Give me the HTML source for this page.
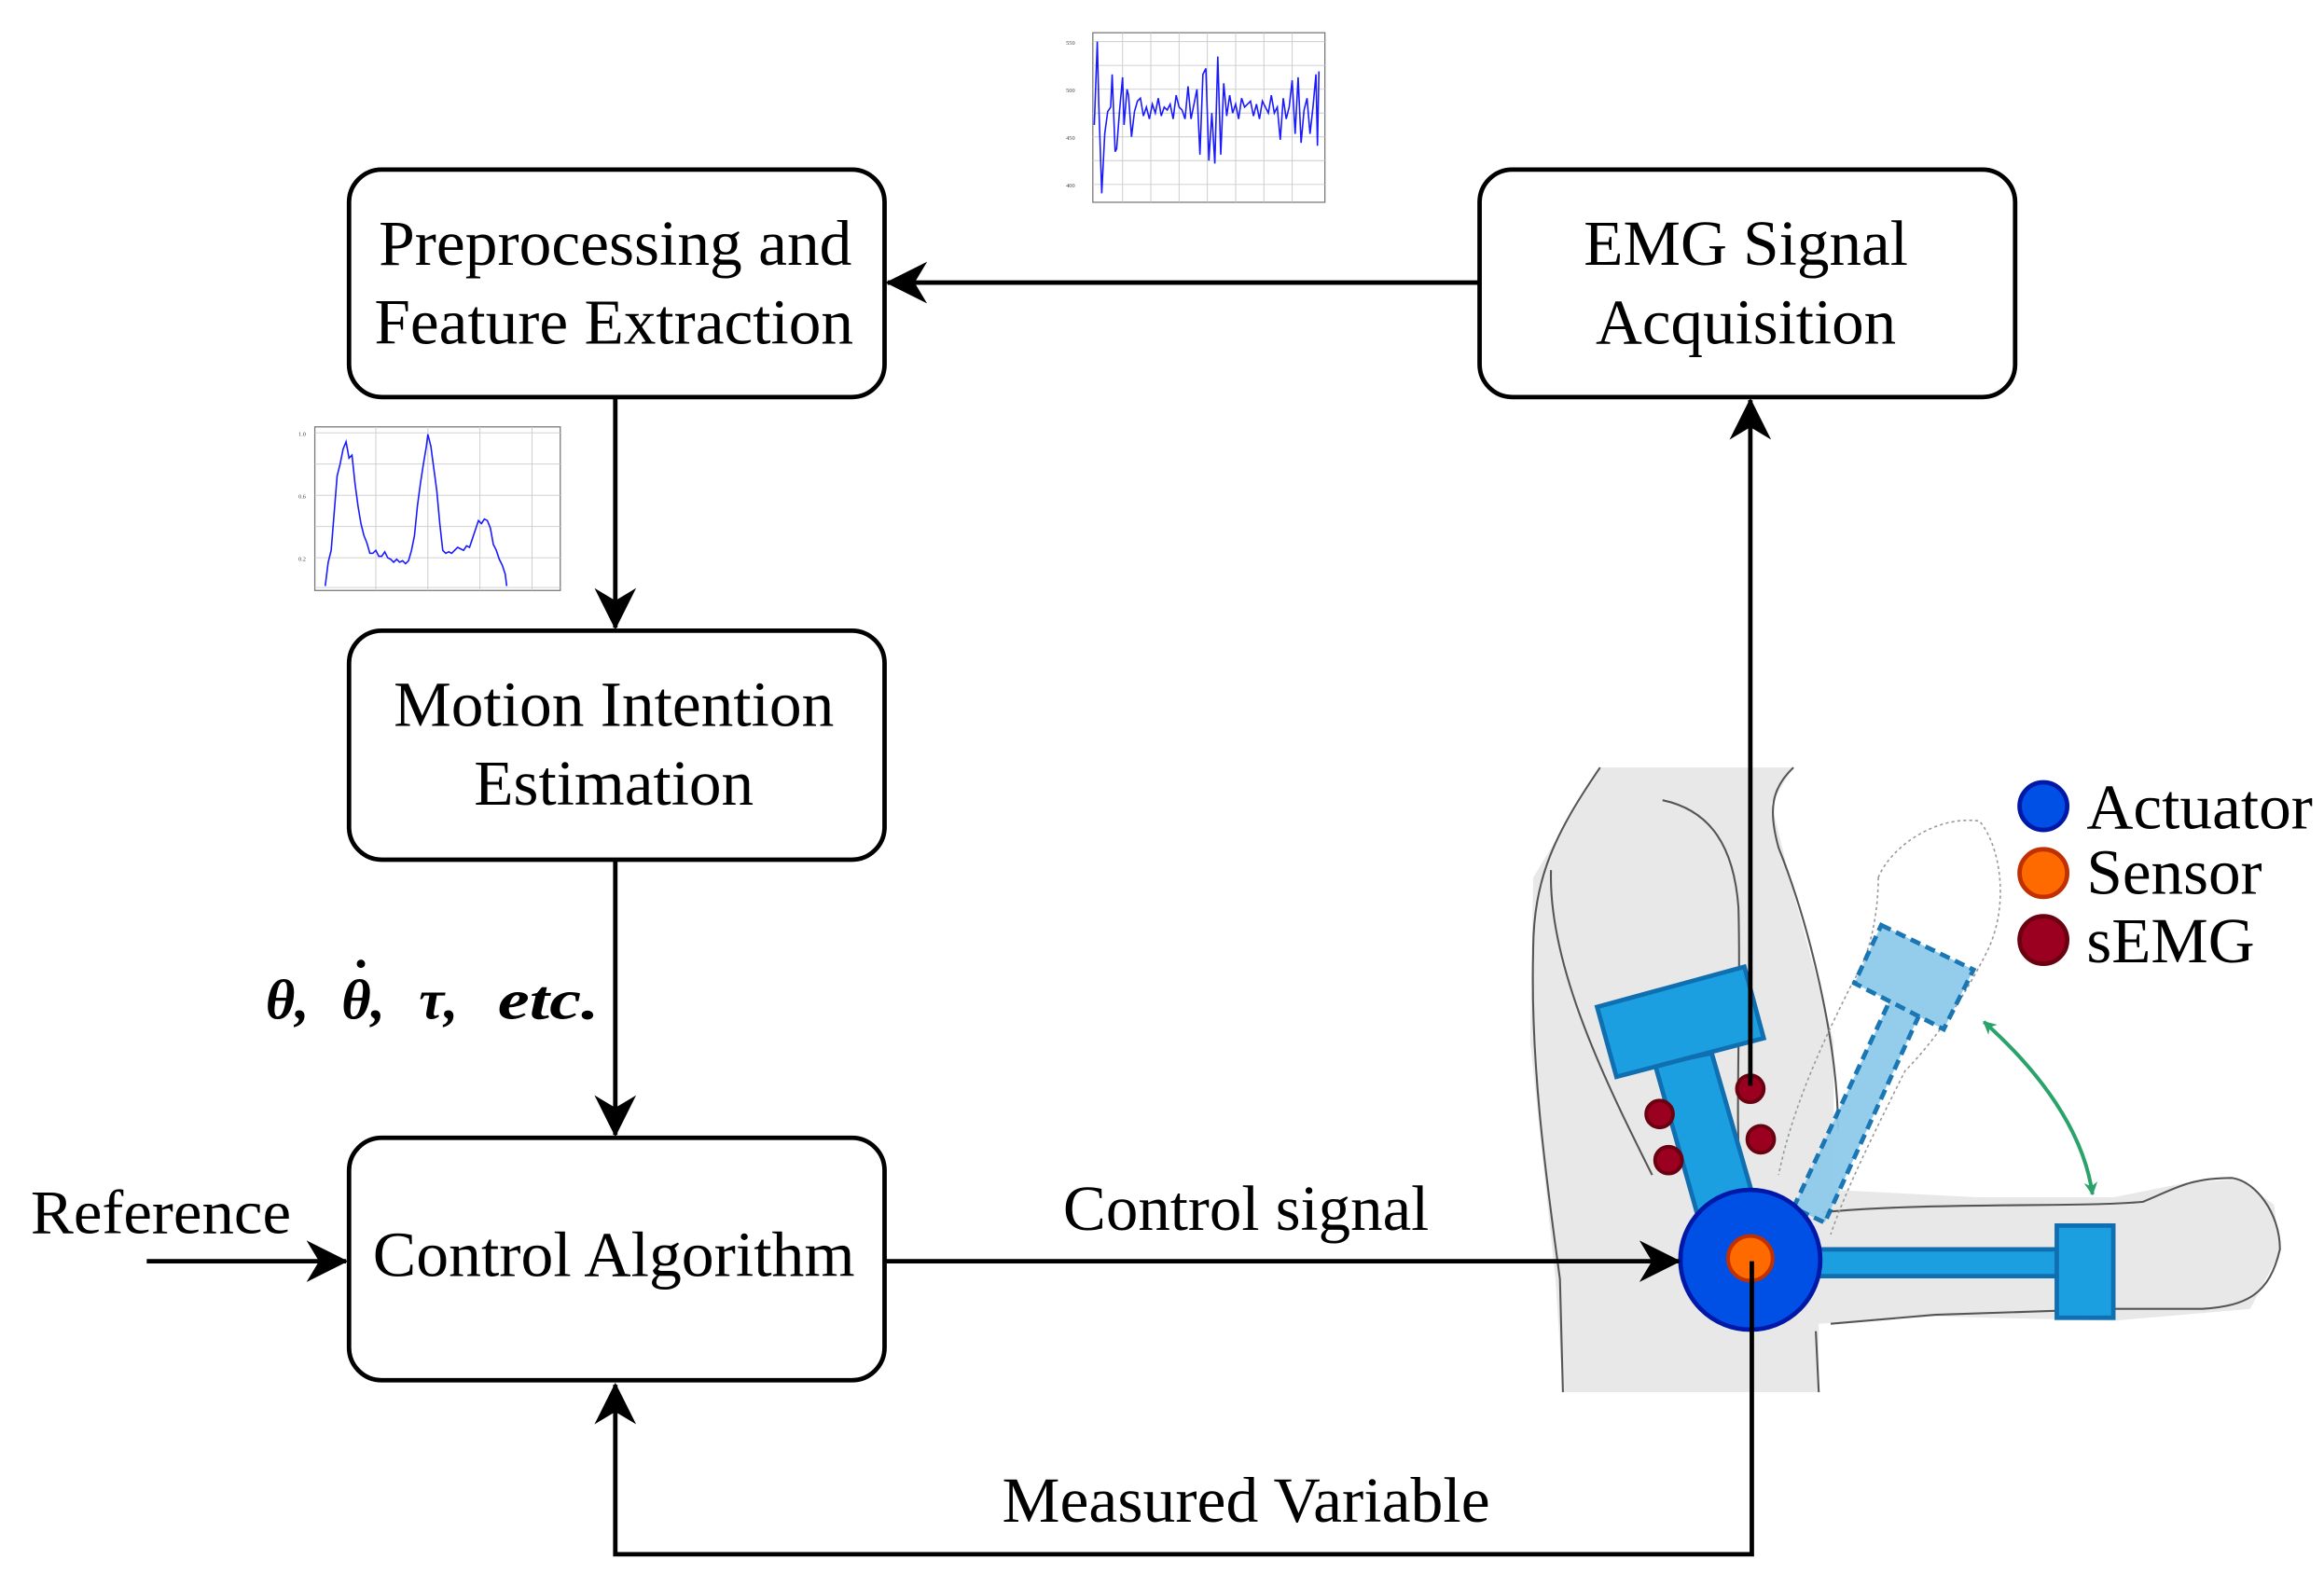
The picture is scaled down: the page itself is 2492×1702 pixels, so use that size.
<!DOCTYPE html>
<html><head><meta charset="utf-8"><style>html,body{margin:0;padding:0;background:#fff}svg{display:block}</style></head>
<body>
<svg width="2492" height="1702" viewBox="0 0 1561 1067" xmlns="http://www.w3.org/2000/svg" font-family="'Liberation Serif', serif">
<defs>
<marker id="ah" viewBox="0 0 20 20" refX="19" refY="10" markerWidth="28" markerHeight="28" markerUnits="userSpaceOnUse" orient="auto">
<path d="M0,0 L20,10 L0,20 L6,10 Z" fill="#000"/></marker>
<marker id="ga" viewBox="0 0 10 10" refX="9" refY="5" markerWidth="9" markerHeight="9" markerUnits="userSpaceOnUse" orient="auto-start-reverse">
<path d="M0,0 L10,5 L0,10 L3,5 Z" fill="#2aa36a"/></marker>
</defs>

<!-- arm illustration -->
<path d="M1075,516 L1205,516 L1190,540 L1205,600 L1232,700 L1232,800 L1330,805 L1420,805 L1470,795 L1505,793 L1528,810 L1532,842 L1512,880 L1420,888 L1300,885 L1222,890 L1222,936 L1050,936 L1045,860 L1028,700 L1030,590 Z" fill="#e8e8e8"/>
<path d="M1075,516 C1045,560 1030,590 1030,640 C1028,720 1040,800 1048,860 L1050,936" fill="none" stroke="#555" stroke-width="1.3"/>
<path d="M1205,516 C1190,530 1188,545 1195,570 C1215,620 1235,700 1235,760" fill="none" stroke="#555" stroke-width="1.3"/>
<path d="M1117,538 C1150,545 1165,570 1168,610 C1170,680 1165,760 1170,800" fill="none" stroke="#555" stroke-width="1.3"/>
<path d="M1042,585 C1040,650 1080,730 1110,790" fill="none" stroke="#555" stroke-width="1.3"/>
<path d="M1225,815 C1300,808 1400,812 1440,808 C1460,800 1470,792 1500,792 C1515,794 1532,815 1532,840 C1525,870 1510,878 1480,880 L1420,880 L1300,884 L1230,890" fill="none" stroke="#555" stroke-width="1.3"/>
<path d="M1220,895 L1222,936" fill="none" stroke="#555" stroke-width="1.3"/>
<path d="M1262,590 C1270,570 1300,548 1330,552 C1345,570 1350,610 1335,640 C1320,670 1300,700 1280,720 C1260,760 1240,800 1230,830" fill="none" stroke="#999" stroke-width="1" stroke-dasharray="2,2"/>
<path d="M1262,590 C1262,610 1258,640 1245,660 C1230,690 1205,740 1195,790" fill="none" stroke="#999" stroke-width="1" stroke-dasharray="2,2"/>

<!-- ghost forearm -->
<g fill="#8fcbec" stroke="#0f6fb0" stroke-width="3" stroke-dasharray="7,4" opacity="0.95">
<polygon points="1205,812 1272,668 1292,677 1226,822"/>
<polygon points="1264,622 1326,652 1306,692 1246,661"/>
</g>

<!-- upper arm strap -->
<polygon points="1112,716 1150,708 1178,805 1140,815" fill="#1c9fe0" stroke="#0f6fb0" stroke-width="3"/>
<polygon points="1073,677 1172,650 1185,698 1086,724" fill="#1c9fe0" stroke="#0f6fb0" stroke-width="3"/>
<!-- forearm bar -->
<rect x="1215" y="840" width="170" height="18" fill="#1c9fe0" stroke="#0f6fb0" stroke-width="3"/>
<rect x="1382" y="824" width="38" height="62" fill="#1c9fe0" stroke="#0f6fb0" stroke-width="3"/>

<!-- sEMG dots -->
<g fill="#9b0020" stroke="#6b0010" stroke-width="2.5">
<circle cx="1176" cy="732" r="9"/><circle cx="1115" cy="749" r="9"/>
<circle cx="1183" cy="766" r="9"/><circle cx="1121" cy="780" r="9"/>
</g>

<!-- actuator -->
<circle cx="1176" cy="847" r="47" fill="#0050e6" stroke="#0018a8" stroke-width="3"/>
<circle cx="1176" cy="846" r="15" fill="#ff6a00" stroke="#c03000" stroke-width="2.5"/>

<!-- green arrow -->
<path d="M1333,687 C1370,720 1400,760 1406,803" fill="none" stroke="#2aa36a" stroke-width="2.5" marker-start="url(#ga)" marker-end="url(#ga)"/>

<!-- legend -->
<circle cx="1373" cy="542" r="16" fill="#0050e6" stroke="#0018a8" stroke-width="3"/>
<circle cx="1373" cy="587" r="16" fill="#ff6a00" stroke="#c03000" stroke-width="3"/>
<circle cx="1373" cy="632" r="16" fill="#9b0020" stroke="#6b0010" stroke-width="3"/>
<g font-size="43" fill="#000">
<text x="1402" y="557" textLength="152" lengthAdjust="spacingAndGlyphs">Actuator</text>
<text x="1402" y="601" textLength="118" lengthAdjust="spacingAndGlyphs">Sensor</text>
<text x="1402" y="647" textLength="113" lengthAdjust="spacingAndGlyphs">sEMG</text>
</g>

<!-- boxes -->
<g fill="none" stroke="#000" stroke-width="3">
<rect x="234" y="114" width="360" height="153" rx="22"/>
<rect x="994" y="114" width="360" height="153" rx="22"/>
<rect x="234" y="424" width="360" height="154" rx="22"/>
<rect x="234" y="765" width="360" height="163" rx="22"/>
</g>
<g font-size="43" text-anchor="middle" fill="#000">
<text x="413" y="178" textLength="318" lengthAdjust="spacingAndGlyphs">Preprocessing and</text>
<text x="412" y="231" textLength="322" lengthAdjust="spacingAndGlyphs">Feature Extraction</text>
<text x="1173" y="178" textLength="218" lengthAdjust="spacingAndGlyphs">EMG Signal</text>
<text x="1173" y="231" textLength="202" lengthAdjust="spacingAndGlyphs">Acquisition</text>
<text x="412" y="488" textLength="296" lengthAdjust="spacingAndGlyphs">Motion Intention</text>
<text x="412" y="541" textLength="188" lengthAdjust="spacingAndGlyphs">Estimation</text>
<text x="412" y="858" textLength="324" lengthAdjust="spacingAndGlyphs">Control Algorithm</text>
<text x="837" y="827" textLength="246" lengthAdjust="spacingAndGlyphs">Control signal</text>
<text x="837" y="1023" textLength="328" lengthAdjust="spacingAndGlyphs">Measured Variable</text>
</g>
<text x="20" y="829" font-size="42" textLength="175" lengthAdjust="spacingAndGlyphs">Reference</text>
<g font-size="38" font-style="italic" font-weight="bold">
<text x="178" y="685">θ,</text>
<text x="229" y="685">θ,</text>
<circle cx="242" cy="648" r="2.8" fill="#000"/>
<text x="281" y="685">τ,</text>
<text x="334" y="685" textLength="68" lengthAdjust="spacingAndGlyphs">etc.</text>
</g>

<!-- connectors -->
<g fill="none" stroke="#000" stroke-width="3">
<line x1="994" y1="190" x2="596" y2="190" marker-end="url(#ah)"/>
<line x1="413" y1="267" x2="413" y2="422" marker-end="url(#ah)"/>
<line x1="413" y1="578" x2="413" y2="763" marker-end="url(#ah)"/>
<line x1="98" y1="848" x2="232" y2="848" marker-end="url(#ah)"/>
<line x1="594" y1="848" x2="1128" y2="848" marker-end="url(#ah)"/>
<polyline points="1177,848 1177,1045 413,1045 413,931" marker-end="url(#ah)"/>
<line x1="1176" y1="730" x2="1176" y2="269" marker-end="url(#ah)"/>
</g>

<!-- EMG plot -->
<g>
<rect x="726" y="20" width="166" height="120" fill="#fff"/>
<rect x="734" y="22" width="156" height="114" fill="#fff" stroke="#777" stroke-width="0.8"/>
<g stroke="#ccc" stroke-width="0.6">
<line x1="734" y1="28" x2="890" y2="28"/><line x1="734" y1="44" x2="890" y2="44"/><line x1="734" y1="60" x2="890" y2="60"/><line x1="734" y1="76" x2="890" y2="76"/><line x1="734" y1="92" x2="890" y2="92"/><line x1="734" y1="108" x2="890" y2="108"/><line x1="734" y1="124" x2="890" y2="124"/>
<line x1="754" y1="22" x2="754" y2="136"/><line x1="773" y1="22" x2="773" y2="136"/><line x1="792" y1="22" x2="792" y2="136"/><line x1="811" y1="22" x2="811" y2="136"/><line x1="830" y1="22" x2="830" y2="136"/><line x1="849" y1="22" x2="849" y2="136"/><line x1="868" y1="22" x2="868" y2="136"/>
</g>
<polyline fill="none" stroke="#1a1aff" stroke-width="1" points="735,84 737,28 738,70 740,130 742,90 744,75 746,72 747,50 749,102 750,100 752,74 754,52 755,84 757,60 758,64 760,92 762,75 764,68 766,66 768,78 770,72 772,80 774,70 776,76 778,66 780,78 782,72 784,74 786,70 788,80 790,64 792,72 794,74 796,80 798,58 800,80 802,70 804,60 806,104 808,50 810,46 812,108 814,76 816,110 818,38 820,104 822,56 824,78 826,64 828,76 830,70 832,80 834,66 836,72 838,70 840,68 842,78 844,70 846,80 848,68 850,72 852,76 854,64 856,76 858,72 860,94 862,66 864,80 866,72 868,54 870,90 872,52 874,96 876,74 878,66 880,90 882,72 884,50 885,98 886,48"/>
<g font-size="4" fill="#444"><text x="716" y="30">550</text><text x="716" y="62">500</text><text x="716" y="94">450</text><text x="716" y="126">400</text></g>
</g>

<!-- feature plot -->
<g>
<rect x="197" y="285" width="180" height="118" fill="#fff"/>
<rect x="211" y="287" width="165" height="110" fill="#fff" stroke="#777" stroke-width="0.8"/>
<g stroke="#ccc" stroke-width="0.6">
<line x1="211" y1="291" x2="376" y2="291"/><line x1="211" y1="312" x2="376" y2="312"/><line x1="211" y1="333" x2="376" y2="333"/><line x1="211" y1="354" x2="376" y2="354"/><line x1="211" y1="375" x2="376" y2="375"/><line x1="211" y1="395" x2="376" y2="395"/>
<line x1="252" y1="287" x2="252" y2="397"/><line x1="287" y1="287" x2="287" y2="397"/><line x1="322" y1="287" x2="322" y2="397"/><line x1="357" y1="287" x2="357" y2="397"/>
</g>
<polyline fill="none" stroke="#1a1aff" stroke-width="1" points="218,394 220,378 222,370 224,345 226,320 228,312 230,302 232,297 234,308 236,306 238,325 240,340 242,352 244,360 246,365 248,372 250,372 252,370 254,374 256,374 258,371 260,375 262,376 264,378 266,376 268,378 270,377 272,379 274,377 276,370 278,360 280,340 282,325 284,312 286,300 287,292 289,300 291,315 293,330 295,352 297,370 299,372 301,371 303,372 305,370 307,368 309,369 311,370 313,367 315,368 317,362 319,356 321,350 323,352 325,349 327,350 329,355 331,366 333,370 335,376 337,380 339,386 340,394"/>
<g font-size="4" fill="#444"><text x="200" y="293">1.0</text><text x="200" y="335">0.6</text><text x="200" y="377">0.2</text></g>
</g>
</svg>
</body></html>
